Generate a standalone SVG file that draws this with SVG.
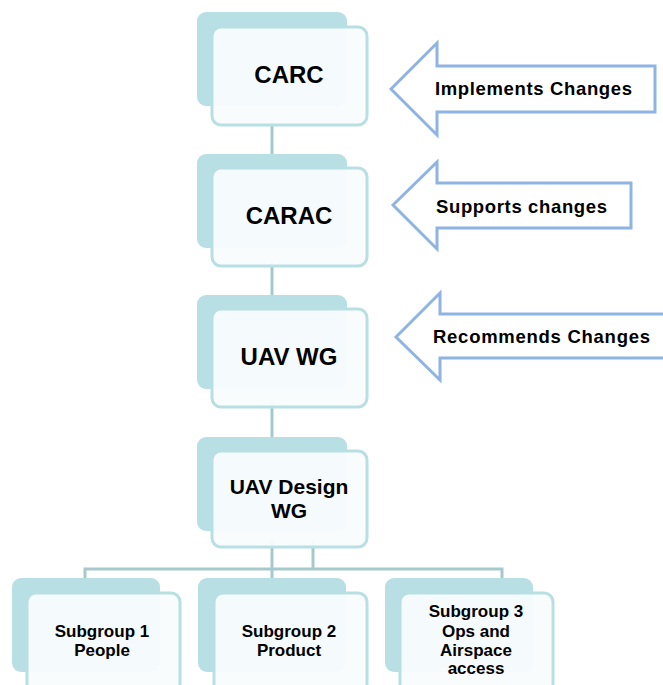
<svg xmlns="http://www.w3.org/2000/svg" width="663" height="685" viewBox="0 0 663 685">
<style>
.back{fill:#b8dfe3;}
.front{fill:#f9fcfd;fill-opacity:0.94;stroke:#b8dfe3;stroke-width:3;}
.conn{stroke:#a6c9cd;stroke-width:3;fill:none;}
.arrow{fill:#ffffff;stroke:#8eb4e3;stroke-width:3;stroke-linejoin:miter;}
.t{font-family:"Liberation Sans",Arial,sans-serif;font-weight:bold;fill:#000;text-anchor:middle;}
.big{font-size:24px;}
.mid{font-size:21px;}
.small{font-size:17px;}
.lab{font-family:"Liberation Sans",Arial,sans-serif;font-weight:bold;fill:#000;font-size:18.5px;}
</style>
<rect width="663" height="685" fill="#ffffff"/>
<g id="connectors">
<line class="conn" x1="272" y1="120" x2="272" y2="158"/>
<line class="conn" x1="272" y1="262" x2="272" y2="300"/>
<line class="conn" x1="272" y1="403" x2="272" y2="441"/>
<line class="conn" x1="272" y1="540" x2="272" y2="582"/>
<line class="conn" x1="313" y1="540" x2="313" y2="569"/>
<polyline class="conn" points="85,580 85,569 502,569 502,580"/>
</g>
<g id="node-carc">
<rect class="back" x="197" y="12" width="150" height="94" rx="9"/>
<rect class="front" x="212" y="27" width="155" height="98" rx="9"/>
<text class="t big" x="289" y="83">CARC</text>
</g>
<g id="node-carac">
<rect class="back" x="197" y="154" width="150" height="94" rx="9"/>
<rect class="front" x="212" y="168" width="155" height="98" rx="9"/>
<text class="t big" x="289" y="224">CARAC</text>
</g>
<g id="node-uavwg">
<rect class="back" x="197" y="295" width="150" height="94" rx="9"/>
<rect class="front" x="212" y="309" width="155" height="98" rx="9"/>
<text class="t big" x="289" y="365">UAV WG</text>
</g>
<g id="node-uavdesign">
<rect class="back" x="197" y="437" width="150" height="94" rx="9"/>
<rect class="front" x="212" y="451" width="155" height="96" rx="9"/>
<text class="t mid" x="289" y="494">UAV Design</text>
<text class="t mid" x="289" y="518">WG</text>
</g>
<g id="node-sub1">
<rect class="back" x="12" y="578" width="148" height="94" rx="9"/>
<rect class="front" x="27" y="593" width="153" height="100" rx="9"/>
<text class="t small" x="102" y="637">Subgroup 1</text>
<text class="t small" x="102" y="656">People</text>
</g>
<g id="node-sub2">
<rect class="back" x="198" y="578" width="148" height="94" rx="9"/>
<rect class="front" x="214" y="593" width="153" height="100" rx="9"/>
<text class="t small" x="289" y="637">Subgroup 2</text>
<text class="t small" x="289" y="656">Product</text>
</g>
<g id="node-sub3">
<rect class="back" x="385" y="578" width="148" height="94" rx="9"/>
<rect class="front" x="400" y="593" width="153" height="100" rx="9"/>
<text class="t small" x="476" y="617">Subgroup 3</text>
<text class="t small" x="476" y="637">Ops and</text>
<text class="t small" x="476" y="656">Airspace</text>
<text class="t small" x="476" y="674">access</text>
</g>
<g id="arrow-implements">
<polygon class="arrow" points="391,89 437,43 437,66 655,66 655,112 437,112 437,135"/>
<text class="lab" x="435" y="95" textLength="197" lengthAdjust="spacing">Implements Changes</text>
</g>
<g id="arrow-supports">
<polygon class="arrow" points="393,205 437,162 437,183 631,183 631,228 437,228 437,249"/>
<text class="lab" x="436" y="213" textLength="171" lengthAdjust="spacing">Supports changes</text>
</g>
<g id="arrow-recommends">
<polygon class="arrow" points="396,337 440,293 440,314 670,314 670,358 440,358 440,380"/>
<text class="lab" x="433" y="343" textLength="217" lengthAdjust="spacing">Recommends Changes</text>
</g>
</svg>
